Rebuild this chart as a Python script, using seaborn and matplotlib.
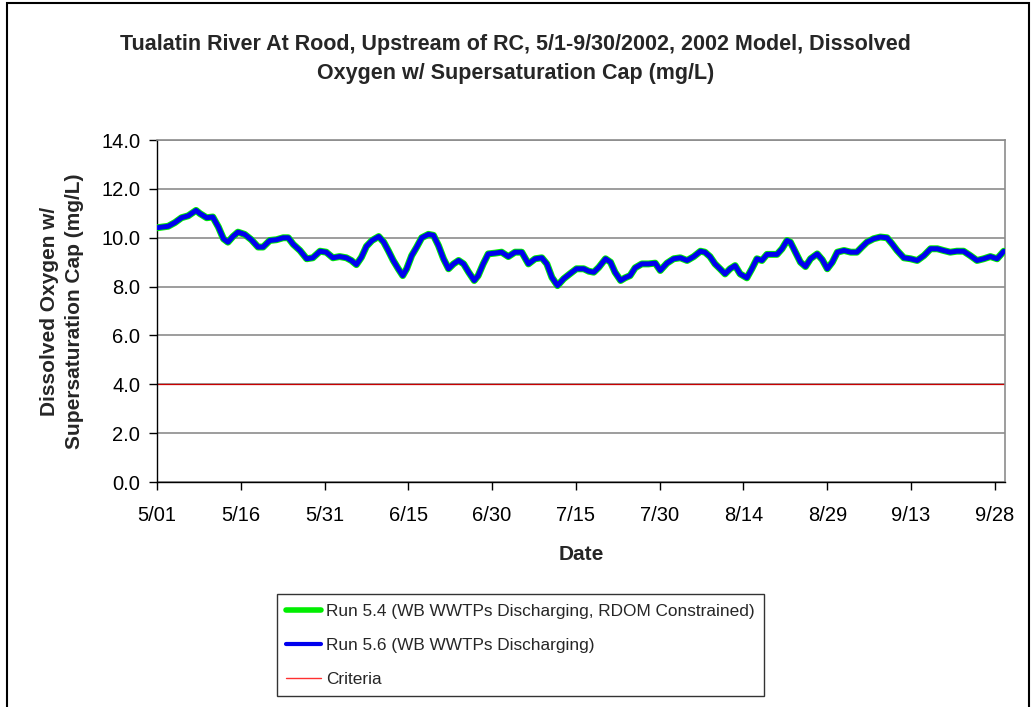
import numpy as np
import pandas as pd
import seaborn as sns
import matplotlib.pyplot as plt
import matplotlib.dates as mdates
from matplotlib.ticker import FuncFormatter, MultipleLocator
from matplotlib.lines import Line2D

# days after 5/01/2002 and dissolved oxygen (mg/L)
day_offset = [0, 2, 3.2, 4.4, 5.6, 7, 7.7, 8.9, 10, 11, 11.9, 12.7, 13.6, 14.5, 15.7,
              16.9, 18.1, 19, 20.2, 21.4, 22.6, 23.5, 24.4, 25.6, 26.8, 27.9, 29.2,
              30.3, 31.5, 32.7, 33.9, 34.8, 35.7, 36.6, 37.5, 38.5, 39.7, 40.6, 41.4,
              42.3, 43.2, 44, 44.7, 45.6, 46.5, 47.4, 48.6, 49.5, 50.4, 51.3, 52.2,
              53.1, 54, 54.9, 55.8, 56.8, 57.5, 58.4, 59.3, 60.5, 61.7, 62.9, 64.1,
              65.3, 66.5, 67.7, 68.9, 69.8, 70.7, 71.7, 72.8, 73.9, 75.1, 76.4, 77.3,
              78.2, 79.1, 80.3, 81.2, 82, 83, 83.8, 84.7, 85.6, 86.8, 88, 89.2, 90.1,
              91.3, 92.5, 93.7, 94.9, 96.1, 97.3, 98.1, 99, 99.9, 100.8, 101.7, 102.6,
              103.5, 104.4, 105.6, 106.5, 107.4, 108.3, 109.2, 110.1, 111, 111.9,
              112.8, 113.4, 114.3, 115.2, 116.1, 117, 118.2, 119.1, 120, 120.9, 121.8,
              123, 124.2, 125.3, 126.2, 127.1, 128.3, 129.5, 130.7, 131.6, 132.5,
              133.7, 134.9, 136.1, 137.3, 138.5, 139.7, 140.8, 142, 143.2, 144.4,
              145.6, 146.8, 148, 149.2, 150.4, 151.6]

run56_do = [10.41, 10.47, 10.62, 10.82, 10.9, 11.12, 10.99, 10.82, 10.85, 10.44, 9.96,
            9.82, 10.05, 10.23, 10.14, 9.92, 9.62, 9.62, 9.89, 9.92, 10.0, 10.0, 9.73,
            9.48, 9.14, 9.18, 9.45, 9.41, 9.18, 9.23, 9.18, 9.07, 8.9, 9.2, 9.65, 9.89,
            10.05, 9.82, 9.48, 9.07, 8.73, 8.45, 8.73, 9.27, 9.62, 10.0, 10.14, 10.1,
            9.68, 9.14, 8.73, 8.93, 9.07, 8.93, 8.59, 8.25, 8.45, 8.93, 9.34, 9.37, 9.41,
            9.23, 9.41, 9.41, 8.93, 9.14, 9.18, 8.93, 8.38, 8.04, 8.32, 8.52, 8.73, 8.73,
            8.63, 8.59, 8.79, 9.14, 9.0, 8.59, 8.25, 8.36, 8.45, 8.77, 8.93, 8.93, 8.96,
            8.66, 8.96, 9.14, 9.18, 9.07, 9.23, 9.45, 9.41, 9.23, 8.93, 8.73, 8.52, 8.73,
            8.86, 8.52, 8.36, 8.73, 9.14, 9.07, 9.32, 9.32, 9.32, 9.55, 9.89, 9.82, 9.41,
            9.0, 8.82, 9.14, 9.34, 9.1, 8.73, 9.0, 9.41, 9.48, 9.41, 9.41, 9.62, 9.82,
            9.96, 10.03, 10.0, 9.75, 9.48, 9.18, 9.14, 9.07, 9.27, 9.55, 9.55, 9.48,
            9.41, 9.45, 9.45, 9.27, 9.07, 9.14, 9.23, 9.14, 9.45]
# the two runs overlap everywhere on the chart
run54_do = list(run56_do)
criteria_do = 4.0

tick_days = [0, 15, 30, 45, 60, 75, 90, 105, 120, 135, 150]
start = pd.Timestamp('2002-05-01')

dates = start + pd.to_timedelta(day_offset, unit='D')
df = pd.DataFrame({'date': dates, 'run54': run54_do, 'run56': run56_do})

sns.set_theme(style='white')
plt.rcParams['font.family'] = ['Liberation Sans', 'DejaVu Sans']

fig = plt.figure(figsize=(10.36, 7.07), dpi=100)
ax = fig.add_axes([0.1515, 0.3182, 0.8185, 0.4837])

ax.axhline(criteria_do, color='#c80000', lw=0.9, zorder=2)
sns.lineplot(data=df, x='date', y='run54', ax=ax, color='#00ee00', lw=5.0, zorder=3)
sns.lineplot(data=df, x='date', y='run56', ax=ax, color='#0000ee', lw=3.6, zorder=4)

ax.set_ylim(0, 14)
ax.yaxis.set_major_locator(MultipleLocator(2))
ax.yaxis.set_major_formatter(FuncFormatter(lambda v, p: f'{v:.1f}'))
ax.set_xlim(start, start + pd.Timedelta(days=151.8))
ax.set_xticks([start + pd.Timedelta(days=d) for d in tick_days])
ax.xaxis.set_major_formatter(FuncFormatter(
    lambda v, p: f'{mdates.num2date(v).month}/{mdates.num2date(v).day:02d}'))

ax.grid(axis='y', color='#8c8c8c', lw=1.2)
ax.grid(axis='x', visible=False)
ax.set_axisbelow(True)
for s in ['top', 'right']:
    ax.spines[s].set_color('#8c8c8c')
    ax.spines[s].set_linewidth(1.2)
for s in ['left', 'bottom']:
    ax.spines[s].set_color('black')
    ax.spines[s].set_linewidth(1.0)
ax.tick_params(axis='both', which='major', direction='out', length=6, width=1,
               color='black', labelsize=14.5, labelcolor='black',
               bottom=True, left=True)
ax.tick_params(axis='x', pad=11)
ax.tick_params(axis='y', pad=6)

ax.set_xlabel('Date', fontsize=15, fontweight='bold', labelpad=15)
ax.set_ylabel('Dissolved Oxygen w/\nSupersaturation Cap (mg/L)', fontsize=15,
              fontweight='bold', labelpad=12, linespacing=1.45)

fig.text(0.4975, 0.917,
         'Tualatin River At Rood, Upstream of RC, 5/1-9/30/2002, 2002 Model, Dissolved\n'
         'Oxygen w/ Supersaturation Cap (mg/L)',
         ha='center', va='center', fontsize=15.5, fontweight='bold', linespacing=1.5)

handles = [Line2D([], [], color='#00ee00', lw=4),
           Line2D([], [], color='#0000ee', lw=3),
           Line2D([], [], color='#ff3030', lw=1)]
labels = ['Run 5.4 (WB WWTPs Discharging, RDOM Constrained)',
          'Run 5.6 (WB WWTPs Discharging)',
          'Criteria']
leg = fig.legend(handles, labels, loc='upper left',
                 bbox_to_anchor=(277 / 1036, 1 - 594 / 707),
                 bbox_transform=fig.transFigure, frameon=True, fontsize=12.4,
                 fancybox=False, edgecolor='black', handlelength=2.0,
                 handletextpad=0.3, labelspacing=1.1, borderpad=0.55,
                 borderaxespad=0)
leg.get_frame().set_linewidth(1.0)

# outer chart border
fig.add_artist(plt.Rectangle((7 / 1036, -0.05), 1 - 14 / 1036, 1.05 - 3 / 707,
                             transform=fig.transFigure, fill=False,
                             edgecolor='black', lw=1.5))

fig.savefig('out.png', dpi=100, facecolor='white')
